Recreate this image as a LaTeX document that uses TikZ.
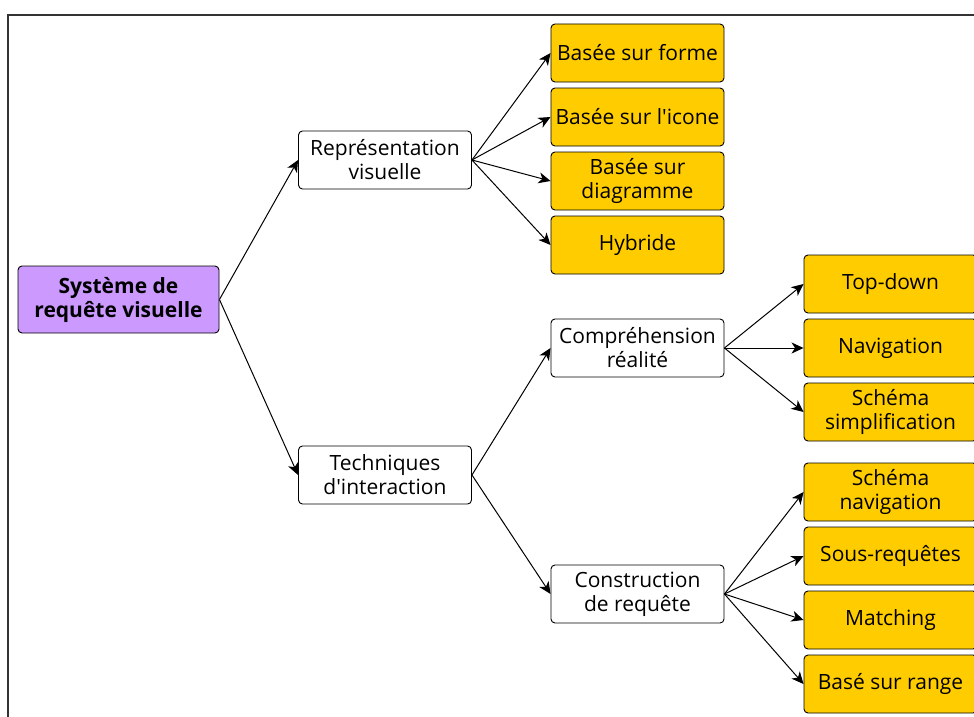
\documentclass[tikz,border=0pt]{standalone}
\usepackage{fontspec}
\setmainfont{Open Sans}
\usetikzlibrary{arrows.meta}

\definecolor{violet}{HTML}{CC99FF}
\definecolor{jaune}{HTML}{FFCC00}

\begin{document}
\begin{tikzpicture}[x=1pt,y=-1pt,
  fleche/.style={line width=1pt,-{Stealth[length=12pt,width=11pt,inset=3.5pt]}},
  box/.style={draw,rounded corners=4pt,line width=0.9pt,align=center,
    minimum width=173pt,minimum height=58pt,inner sep=1pt,
    font=\fontsize{21}{24}\selectfont},
  leaf/.style={box,fill=jaune}]

\useasboundingbox (0,0) rectangle (974,717);
\draw[line width=1.4pt,black!80] (8,15) rectangle (1000,740);

\node[box,fill=violet,minimum width=201pt,minimum height=67pt,
  font=\fontsize{21}{24}\selectfont\bfseries] (A) at (118.5,299.5) {Système de\\requête visuelle};

\node[box] (B) at (385,160) {Représentation\\visuelle};
\node[box] (C) at (385,475) {Techniques\\d\textquotesingle interaction};

\node[leaf] (B1) at (637.5,53) {Basée sur forme};
\node[leaf] (B2) at (637.5,117) {Basée sur l\textquotesingle icone};
\node[leaf] (B3) at (637.5,181) {Basée sur\\diagramme};
\node[leaf] (B4) at (637.5,245) {Hybride};

\node[box] (C1) at (637.5,348) {Compréhension\\réalité};
\node[box] (C2) at (637.5,594) {Construction\\de requête};

\node[leaf] (D1) at (890.5,284) {Top-down};
\node[leaf] (D2) at (890.5,348) {Navigation};
\node[leaf] (D3) at (890.5,412) {Schéma\\simplification};

\node[leaf] (E1) at (890.5,492) {Schéma\\navigation};
\node[leaf] (E2) at (890.5,556) {Sous-requêtes};
\node[leaf] (E3) at (890.5,620) {Matching};
\node[leaf] (E4) at (890.5,684) {Basé sur range};

\draw[fleche] (A.east) -- (B.west);
\draw[fleche] (A.east) -- (C.west);

\draw[fleche] (B.east) -- (B1.west);
\draw[fleche] (B.east) -- (B2.west);
\draw[fleche] (B.east) -- (B3.west);
\draw[fleche] (B.east) -- (B4.west);

\draw[fleche] (C.east) -- (C1.west);
\draw[fleche] (C.east) -- (C2.west);

\draw[fleche] (C1.east) -- (D1.west);
\draw[fleche] (C1.east) -- (D2.west);
\draw[fleche] (C1.east) -- (D3.west);

\draw[fleche] (C2.east) -- (E1.west);
\draw[fleche] (C2.east) -- (E2.west);
\draw[fleche] (C2.east) -- (E3.west);
\draw[fleche] (C2.east) -- (E4.west);
\end{tikzpicture}
\end{document}
